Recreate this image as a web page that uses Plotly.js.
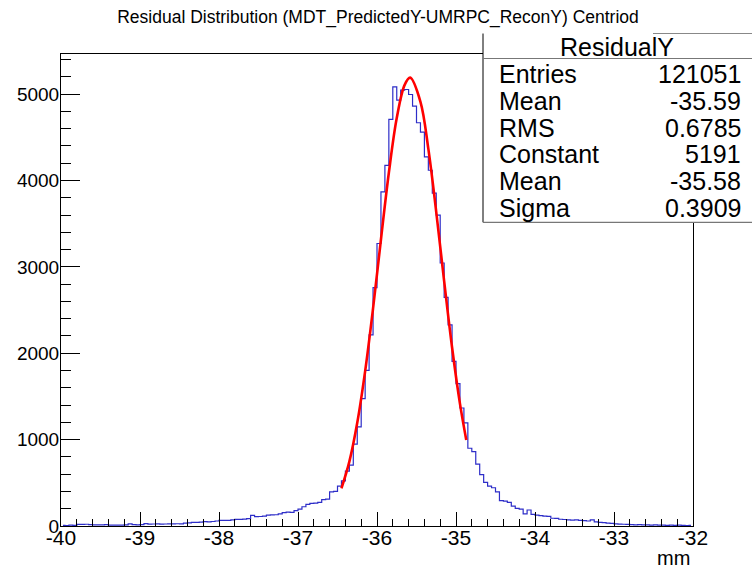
<!DOCTYPE html>
<html>
<head>
<meta charset="utf-8">
<script src="https://cdn.plot.ly/plotly-3.0.1.min.js"></script>
<style>html,body{margin:0;padding:0;background:#fff;}#chart{width:752px;height:568px;}</style>
</head>
<body>
<div id="chart"></div>
<script>
// ---- data ----
const chartTitle = "Residual Distribution (MDT_PredictedY-UMRPC_ReconY) Centriod";
const xAxisTitle = "mm";
const binCenters = [
-39.975,-39.925,-39.875,-39.825,-39.775,-39.725,-39.675,-39.625,-39.575,-39.525,-39.475,-39.425,-39.375,-39.325,-39.275,-39.225,-39.175,-39.125,-39.075,-39.025,
-38.975,-38.925,-38.875,-38.825,-38.775,-38.725,-38.675,-38.625,-38.575,-38.525,-38.475,-38.425,-38.375,-38.325,-38.275,-38.225,-38.175,-38.125,-38.075,-38.025,
-37.975,-37.925,-37.875,-37.825,-37.775,-37.725,-37.675,-37.625,-37.575,-37.525,-37.475,-37.425,-37.375,-37.325,-37.275,-37.225,-37.175,-37.125,-37.075,-37.025,
-36.975,-36.925,-36.875,-36.825,-36.775,-36.725,-36.675,-36.625,-36.575,-36.525,-36.475,-36.425,-36.375,-36.325,-36.275,-36.225,-36.175,-36.125,-36.075,-36.025,
-35.975,-35.925,-35.875,-35.825,-35.775,-35.725,-35.675,-35.625,-35.575,-35.525,-35.475,-35.425,-35.375,-35.325,-35.275,-35.225,-35.175,-35.125,-35.075,-35.025,
-34.975,-34.925,-34.875,-34.825,-34.775,-34.725,-34.675,-34.625,-34.575,-34.525,-34.475,-34.425,-34.375,-34.325,-34.275,-34.225,-34.175,-34.125,-34.075,-34.025,
-33.975,-33.925,-33.875,-33.825,-33.775,-33.725,-33.675,-33.625,-33.575,-33.525,-33.475,-33.425,-33.375,-33.325,-33.275,-33.225,-33.175,-33.125,-33.075,-33.025,
-32.975,-32.925,-32.875,-32.825,-32.775,-32.725,-32.675,-32.625,-32.575,-32.525,-32.475,-32.425,-32.375,-32.325,-32.275,-32.225,-32.175,-32.125,-32.075,-32.025
];
const binCounts = [
8,6,9,7,18,19,20,17,13,14,12,15,10,9,11,10,12,24,16,14,
17,27,22,23,24,22,23,25,24,26,25,34,36,42,41,45,50,48,52,58,
64,66,65,70,77,76,80,86,123,108,110,115,125,128,130,140,155,160,158,177,
195,223,250,262,265,273,305,312,396,400,462,523,635,704,947,1147,1475,1801,2214,2760,
3271,3868,4176,4707,5085,4931,5046,5054,4996,4861,4669,4561,4273,4119,3853,3599,3045,2648,2329,1905,
1648,1366,1193,900,860,716,595,504,462,443,396,293,289,273,231,204,196,140,185,135,
127,119,115,112,90,88,78,75,70,68,70,66,62,58,70,48,42,38,34,30,
24,22,20,18,17,14,16,12,14,10,12,9,11,8,10,7,9,8,6,7
];
// Gaussian fit curve
const fitX = [-36.45,-36.35,-36.25,-36.15,-36.05,-35.95,-35.85,-35.75,-35.65,-35.58,-35.45,-35.35,-35.25,-35.15,-35.05,-34.95,-34.87];
const fitY = [436,746,1195,1793,2519,3317,4090,4723,5108,5191,4912,4366,3635,2835,2070,1417,997];
const xTickVals = [-40,-39,-38,-37,-36,-35,-34,-33,-32];
const xTickText = ["-40","-39","-38","-37","-36","-35","-34","-33","-32"];
const yTickVals = [0,1000,2000,3000,4000,5000];
const yTickText = ["0","1000","2000","3000","4000","5000"];
const statsName = "ResidualY";
const statsLabels = ["Entries","Mean","RMS","Constant","Mean","Sigma"];
const statsValues = ["121051","-35.59","0.6785","5191","-35.58","0.3909"];

// ---- layout helpers (pixel -> paper) ----
const W = 752, H = 568, PL = 61, PR = 693, PT = 53.5, PB = 526;
const px = x => (x - PL) / (PR - PL);
const py = y => (PB - y) / (PB - PT);
const FONT = "Liberation Sans, Arial, Helvetica, sans-serif";

const traces = [
  {
    type: "scatter", mode: "lines", x: binCenters, y: binCounts,
    line: {shape: "hvh", color: "rgb(45,45,200)", width: 1.2},
    hoverinfo: "skip", showlegend: false
  },
  {
    type: "scatter", mode: "lines", x: fitX, y: fitY,
    line: {shape: "spline", smoothing: 1, color: "#ff0000", width: 2.6},
    hoverinfo: "skip", showlegend: false
  }
];

const shapes = [
  {type: "rect", xref: "paper", yref: "paper", x0: px(483), x1: px(752), y0: py(222), y1: py(33),
   fillcolor: "#ffffff", line: {width: 0}, layer: "above"},
  {type: "line", xref: "paper", yref: "paper", x0: px(483), x1: px(483), y0: py(222), y1: py(33),
   line: {color: "#000", width: 1}, layer: "above"},
  {type: "line", xref: "paper", yref: "paper", x0: px(483), x1: px(752), y0: py(222), y1: py(222),
   line: {color: "#777", width: 1.2}, layer: "above"},
  {type: "line", xref: "paper", yref: "paper", x0: px(483), x1: px(752), y0: py(58), y1: py(58),
   line: {color: "#777", width: 1.2}, layer: "above"},
  {type: "line", xref: "paper", yref: "paper", x0: px(653), x1: px(752), y0: py(33), y1: py(33),
   line: {color: "#888", width: 1.2}, layer: "above"}
];

const annotations = [];
annotations.push({xref: "paper", yref: "paper", x: px(617), y: py(46), text: statsName, showarrow: false,
  xanchor: "center", yanchor: "middle", font: {family: FONT, size: 25, color: "#000"}});
const rowY = [74, 101, 128, 154, 181, 208];
statsLabels.forEach((lab, i) => {
  annotations.push({xref: "paper", yref: "paper", x: px(497), y: py(rowY[i]), text: lab, showarrow: false,
    xanchor: "left", yanchor: "middle", font: {family: FONT, size: 25, color: "#000"}});
  annotations.push({xref: "paper", yref: "paper", x: px(743), y: py(rowY[i]), text: statsValues[i], showarrow: false,
    xanchor: "right", yanchor: "middle", font: {family: FONT, size: 25, color: "#000"}});
});
annotations.push({xref: "paper", yref: "paper", x: px(692), y: py(558), text: xAxisTitle, showarrow: false,
  xanchor: "right", yanchor: "middle", font: {family: FONT, size: 20, color: "#000"}});

const layout = {
  width: W, height: H,
  margin: {l: PL, r: W - PR, t: PT, b: H - PB, pad: 0},
  paper_bgcolor: "#fff", plot_bgcolor: "#fff",
  showlegend: false,
  title: {text: chartTitle, x: 378 / W, xanchor: "center", y: 1 - 17 / H, yanchor: "middle", yref: "container",
          font: {family: FONT, size: 17.5, color: "#000"}},
  xaxis: {
    range: [-40, -32], tickmode: "array", tickvals: xTickVals, ticktext: xTickText,
    ticks: "inside", ticklen: 14, tickwidth: 1, tickcolor: "#000",
    showline: true, linecolor: "#000", linewidth: 1, mirror: true,
    showgrid: false, zeroline: false, ticklabelstandoff: -7,
    minor: {dtick: 0.2, tick0: -40, ticks: "inside", ticklen: 7, tickwidth: 1, tickcolor: "#000", showgrid: false},
    tickfont: {family: FONT, size: 21, color: "#000"}
  },
  yaxis: {
    range: [0, 5465], tickmode: "array", tickvals: yTickVals, ticktext: yTickText,
    ticks: "inside", ticklen: 19, tickwidth: 1, tickcolor: "#000",
    showline: true, linecolor: "#000", linewidth: 1, mirror: true,
    showgrid: false, zeroline: false, ticklabelstandoff: -3,
    minor: {dtick: 200, tick0: 0, ticks: "inside", ticklen: 10, tickwidth: 1, tickcolor: "#000", showgrid: false},
    tickfont: {family: FONT, size: 19, color: "#000"}
  },
  shapes: shapes,
  annotations: annotations
};

Plotly.newPlot("chart", traces, layout, {displayModeBar: false, staticPlot: true});
</script>
</body>
</html>
